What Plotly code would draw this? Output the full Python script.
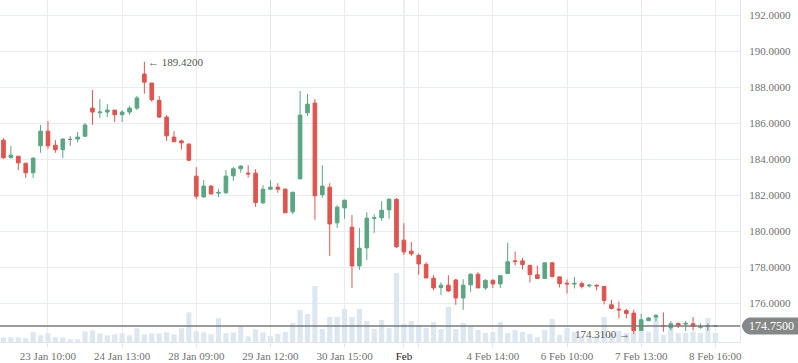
import plotly.graph_objects as go

# ---------------- data ----------------
opens = [185.07, 184.11, 184.18, 183.79, 183.26, 184.76, 185.57, 184.79, 184.54, 185.11,
         185.13, 185.29, 186.85, 186.59, 186.63, 186.74, 186.48, 186.63, 186.85, 188.74,
         188.24, 187.28, 186.35, 185.24, 185.03, 184.85, 183.07, 181.92, 182.52, 182.13,
         182.15, 183.09, 183.48, 183.24, 183.24, 181.59, 182.35, 182.46, 182.35, 181.09,
         182.92, 186.59, 187.13, 182.04, 182.46, 180.48, 181.31, 180.24, 178.09, 179.09,
         180.72, 180.76, 181.20, 181.79, 179.52, 178.91, 178.68, 178.18, 177.41, 176.89,
         177.02, 177.31, 176.31, 177.04, 177.63, 176.87, 177.29, 177.09, 177.67, 178.37,
         178.37, 178.11, 177.60, 177.39, 178.26, 177.48, 177.13, 177.08, 177.11, 176.98,
         177.02, 176.95, 175.93, 175.69, 175.61, 175.47, 174.51, 175.05, 175.25, 174.78,
         174.66, 174.90, 174.86, 174.88, 174.68, 174.75, 174.75]
highs = [185.18, 184.74, 184.18, 183.79, 184.13, 185.91, 186.13, 185.07, 185.18, 185.29,
         185.52, 186.02, 187.85, 187.35, 187.07, 186.74, 186.74, 186.96, 187.52, 189.42,
         188.24, 187.52, 186.46, 185.57, 185.11, 184.90, 183.57, 182.85, 182.57, 182.37,
         183.41, 183.59, 183.68, 183.68, 183.46, 182.57, 182.85, 182.68, 182.39, 182.20,
         187.80, 187.63, 187.35, 183.68, 182.68, 181.46, 181.76, 180.91, 180.20, 181.07,
         180.96, 181.68, 181.85, 181.85, 180.46, 179.41, 178.79, 178.29, 177.57, 177.18,
         177.57, 177.37, 177.35, 177.68, 177.74, 177.35, 177.35, 177.55, 179.37, 178.89,
         178.54, 178.17, 178.11, 178.28, 178.32, 177.50, 177.34, 177.48, 177.23, 177.08,
         177.06, 176.95, 176.21, 176.11, 175.71, 175.66, 175.44, 175.25, 175.42, 175.51,
         175.03, 174.94, 175.03, 175.25, 174.90, 174.90, 174.75]
lows = [184.04, 184.04, 183.41, 182.98, 182.98, 184.37, 184.59, 184.37, 184.07, 184.76,
        184.94, 185.24, 185.92, 186.29, 186.35, 186.07, 186.07, 186.48, 186.74, 187.65,
        187.20, 186.31, 185.03, 184.98, 184.55, 183.90, 181.79, 181.87, 182.03, 181.92,
        182.09, 182.81, 183.26, 183.00, 181.37, 181.52, 182.33, 182.15, 181.02, 180.96,
        182.92, 186.42, 180.65, 181.87, 178.65, 180.20, 180.70, 176.87, 177.87, 178.42,
        179.92, 180.59, 180.70, 179.09, 178.70, 178.65, 177.59, 177.42, 176.74, 176.48,
        176.65, 175.93, 175.65, 176.65, 176.87, 176.76, 176.87, 176.87, 177.65, 178.11,
        177.89, 177.17, 177.39, 177.37, 177.45, 176.89, 176.56, 176.84, 176.84, 176.89,
        176.73, 175.95, 175.67, 175.17, 175.17, 174.31, 174.49, 175.03, 175.01, 174.44,
        174.51, 174.64, 174.47, 174.49, 174.60, 174.49, 174.75]
closes = [184.09, 184.24, 183.81, 183.26, 184.07, 185.57, 184.76, 184.54, 185.13, 185.11,
          185.24, 185.91, 186.63, 186.63, 186.74, 186.48, 186.63, 186.85, 187.41, 188.29,
          187.31, 186.35, 185.31, 184.98, 184.92, 183.96, 181.96, 182.52, 182.09, 182.17,
          183.07, 183.48, 183.63, 183.20, 181.61, 182.35, 182.46, 182.35, 181.04, 182.18,
          186.46, 187.07, 181.98, 182.52, 180.42, 181.35, 181.74, 178.09, 179.07, 180.74,
          180.76, 181.18, 181.79, 179.15, 178.87, 178.76, 178.20, 177.42, 176.87, 177.02,
          176.70, 176.31, 177.02, 177.63, 176.87, 177.29, 177.09, 177.55, 178.32, 178.33,
          178.17, 177.61, 177.39, 178.26, 177.50, 177.11, 177.09, 177.12, 176.95, 177.02,
          176.98, 176.17, 175.73, 175.65, 175.45, 174.51, 175.10, 175.20, 175.34, 174.76,
          174.88, 174.79, 174.90, 174.73, 174.72, 174.75, 174.75]
volumes = [47, 47, 47, 37, 100, 67, 87, 47, 47, 27,
           27, 107, 117, 87, 67, 77, 87, 67, 137, 77,
           87, 87, 97, 77, 137, 297, 107, 97, 77, 237,
           87, 97, 157, 57, 127, 97, 60, 80, 100, 190,
           320, 280, 560, 130, 250, 250, 330, 250, 330, 210,
           130, 220, 140, 690, 180, 210, 170, 140, 200, 130,
           350, 130, 190, 160, 120, 90, 100, 200, 90, 120,
           100, 80, 50, 120, 230, 70, 140, 100, 60, 40,
           60, 250, 80, 110, 90, 140, 120, 100, 250, 70,
           140, 90, 90, 100, 90, 240, 90]

tick_pos = [6, 16, 26, 36, 46, 54, 56, 66, 76, 86, 96]
tick_text = ["23 Jan 10:00", "24 Jan 13:00", "28 Jan 09:00", "29 Jan 12:00",
             "30 Jan 15:00", "<span style='color:#222'>Feb</span>", "",
             "4 Feb 14:00", "6 Feb 10:00", "7 Feb 13:00", "8 Feb 16:00"]
month_mark = 54
last_price = 174.75

x_all = list(range(len(opens)))
doji = [i for i in x_all if opens[i] == closes[i]]
normal = [i for i in x_all if i not in doji]

GREEN = "#5aa682"
RED = "#e0544f"
GRAY = "#7d7d7d"
FONT = "Liberation Serif"

fig = go.Figure()

fig.add_trace(go.Bar(
    x=x_all, y=volumes, marker=dict(color="#dce7f2", line=dict(width=0)),
    width=0.7, yaxis="y", hoverinfo="skip", showlegend=False))

fig.add_trace(go.Candlestick(
    x=normal,
    open=[opens[i] for i in normal], high=[highs[i] for i in normal],
    low=[lows[i] for i in normal], close=[closes[i] for i in normal],
    increasing=dict(line=dict(color=GREEN, width=1), fillcolor=GREEN),
    decreasing=dict(line=dict(color=RED, width=1), fillcolor=RED),
    whiskerwidth=0, yaxis="y2", showlegend=False))

fig.add_trace(go.Candlestick(
    x=doji,
    open=[opens[i] for i in doji], high=[highs[i] for i in doji],
    low=[lows[i] for i in doji], close=[closes[i] for i in doji],
    increasing=dict(line=dict(color=GRAY, width=1), fillcolor=GRAY),
    decreasing=dict(line=dict(color=GRAY, width=1), fillcolor=GRAY),
    whiskerwidth=0, yaxis="y2", showlegend=False))

# max / min annotations
imax = max(x_all, key=lambda i: highs[i])
imin = min(x_all, key=lambda i: lows[i])

annotations = [
    dict(x=imax, y=highs[imax], xref="x", yref="y2", text="\u2190 %.4f" % highs[imax],
         showarrow=False, xanchor="left", yanchor="middle", xshift=2,
         font=dict(family=FONT, size=11, color="#555")),
    dict(x=imin, y=lows[imin], xref="x", yref="y2", text="%.4f \u2192" % lows[imin],
         showarrow=False, xanchor="right", yanchor="middle", xshift=-2,
         font=dict(family=FONT, size=11, color="#555")),
    dict(x=1.0419, y=last_price, xref="paper", yref="y2", text="%.4f" % last_price,
         showarrow=False, xanchor="center", yanchor="middle",
         font=dict(family=FONT, size=12, color="white")),
]

L = last_price
h = 0.47
label_path = ("M 1.0023,{m} Q 1.0045,{a} 1.012,{t} L 1.09,{t} L 1.09,{b} L 1.012,{b} "
              "Q 1.0045,{c} 1.0023,{m} Z").format(m=L, a=L + 0.38, t=L + h, b=L - h, c=L - 0.38)

shapes = [
    dict(type="line", xref="x", yref="paper", x0=month_mark, x1=month_mark, y0=0, y1=1,
         line=dict(color="#d4d7da", width=1), layer="below"),
    dict(type="line", xref="paper", yref="y2", x0=0, x1=1, y0=L, y1=L,
         line=dict(color="#7a7a7a", width=1.5)),
    dict(type="path", xref="paper", yref="y2", path=label_path,
         fillcolor="#858787", line=dict(width=0)),
]

fig.update_layout(
    width=798, height=363,
    margin=dict(l=0, r=58, t=0, b=21),
    paper_bgcolor="white", plot_bgcolor="white",
    showlegend=False,
    boxgap=0.3,
    xaxis=dict(
        range=[-0.47, 99.33], tickmode="array", tickvals=tick_pos, ticktext=tick_text,
        showgrid=True, gridcolor="#e9edf1", gridwidth=1,
        showline=True, linecolor="#e2e5e8", linewidth=1,
        ticks="outside", ticklen=4, tickcolor="#e2e5e8",
        tickfont=dict(family=FONT, size=11, color="#707070"),
        rangeslider=dict(visible=False), zeroline=False, fixedrange=True),
    yaxis=dict(range=[0, 3420], visible=False, fixedrange=True),
    yaxis2=dict(
        overlaying="y", side="right", range=[173.867, 192.85],
        tickmode="array", tickvals=[176, 178, 180, 182, 184, 186, 188, 190, 192],
        tickformat=".4f",
        showgrid=True, gridcolor="#e9edf1", gridwidth=1,
        showline=True, linecolor="#e2e5e8", linewidth=1,
        ticks="outside", ticklen=6, tickcolor="rgba(0,0,0,0)",
        tickfont=dict(family=FONT, size=11, color="#707070"),
        zeroline=False, fixedrange=True),
    annotations=annotations,
    shapes=shapes,
)

fig.write_html("out.html", config={"displayModeBar": False},
               post_script="document.body.style.margin='0';document.body.style.overflow='hidden';")
